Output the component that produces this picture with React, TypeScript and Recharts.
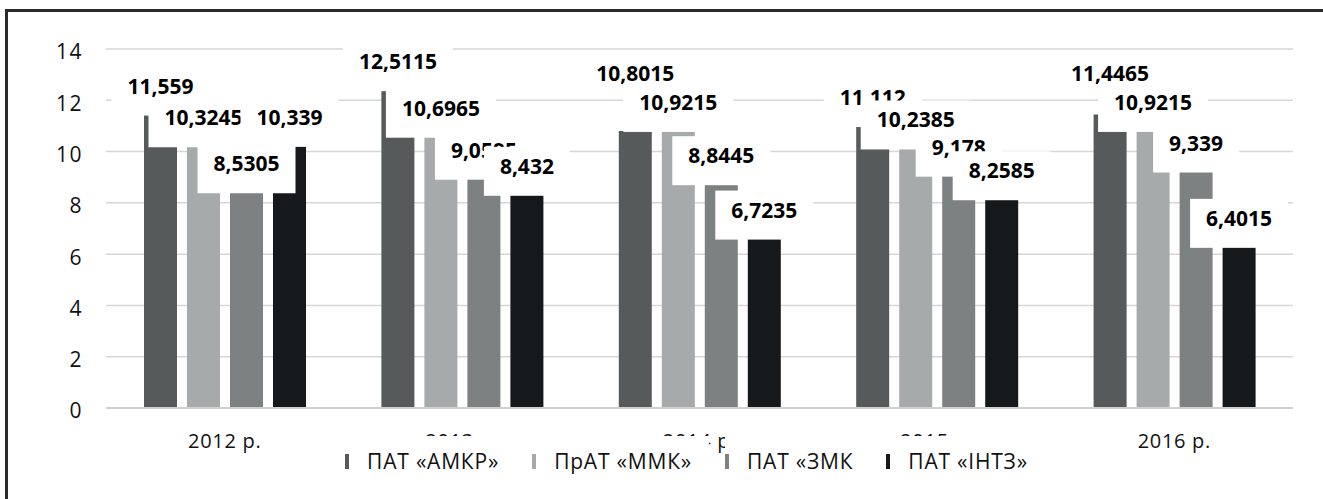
import { Bar, BarChart, CartesianGrid, LabelList, Legend, XAxis, YAxis } from "recharts";

const years = ["2012 р.", "2013 р.", "2014 р.", "2015 р.", "2016 р."];
const seriesNames = ["ПАТ «АМКР»", "ПрАТ «ММК»", "ПАТ «ЗМК", "ПАТ «ІНТЗ»"];
const amkr = [11.559, 12.5115, 10.8015, 11.112, 11.4465];
const mmk = [10.3245, 10.6965, 10.9215, 10.2385, 10.9215];
const zmk = [8.5305, 9.0595, 8.8445, 9.178, 9.339];
const intz = [10.339, 8.432, 6.7235, 8.2585, 6.4015];
const yTicks = [0, 2, 4, 6, 8, 10, 12, 14];

const series = [amkr, mmk, zmk, intz];
const colors = ["#575a5b", "#a7aaaa", "#7e8181", "#16191b"];
const keys = ["amkr", "mmk", "zmk", "intz"];

const data = years.map((year, i) => ({
  year,
  amkr: amkr[i],
  mmk: mmk[i],
  zmk: zmk[i],
  intz: intz[i]
}));

const textFont = "'Open Sans', sans-serif";

// white-boxed value label, like the Excel data callouts.
// If the next series' box would hide most of this text, lift it above that box.
function BoxLabel(props: any) {
  const { x, y, width, height, value, index, seriesIndex } = props;
  const cx = Number(x) + Number(width) / 2;
  const top = Number(y);
  const text = String(value).replace(".", ",");
  const digits = text.replace(",", "").length;
  const tw = digits * 12 + 6;

  let baseline = top - 18;
  let boxBottom = top + 4;
  const nextSeries = series[seriesIndex + 1];
  if (nextSeries && Number(value) > 0) {
    const pxPerUnit = Number(height) / Number(value);
    const nextTop = top + (Number(value) - nextSeries[index]) * pxPerUnit;
    const diff = nextTop - top;
    if (diff > -37 && 27 - diff > 12) {
      baseline = nextTop - 47;
      boxBottom = baseline + 16;
    }
  }

  return (
    <g>
      <rect
        x={cx - tw / 2 - 16}
        y={baseline - 27}
        width={tw + 32}
        height={boxBottom - (baseline - 27)}
        fill="#fff"
      />
      <text
        x={cx}
        y={baseline}
        textAnchor="middle"
        fontFamily={textFont}
        fontWeight={700}
        fontSize={21}
        fill="#000"
      >
        {text}
      </text>
    </g>
  );
}

function LegendBoxes() {
  return (
    <div
      style={{
        position: "absolute",
        top: 436,
        left: 0,
        width: 1390,
        display: "flex",
        justifyContent: "center",
        gap: 16
      }}
    >
      {seriesNames.map((name, i) => (
        <div
          key={name}
          style={{
            background: "#fff",
            display: "flex",
            alignItems: "flex-start",
            padding: "13px 17px 16px 0",
            fontFamily: textFont,
            fontSize: 21,
            lineHeight: "24px",
            letterSpacing: 0.8,
            color: "#111",
            whiteSpace: "nowrap"
          }}
        >
          <span
            style={{
              display: "inline-block",
              width: 4,
              height: 15,
              marginTop: 5,
              marginRight: 18,
              background: colors[i]
            }}
          />
          {name}
        </div>
      ))}
    </div>
  );
}

export default function App() {
  return (
    <div style={{ position: "absolute", left: 0, top: 0, width: 1323, height: 499, background: "#fff", overflow: "hidden" }}>
      <div
        style={{
          position: "absolute",
          left: 5,
          top: 9,
          width: 1340,
          height: 520,
          borderTop: "3px solid #2a2a2a",
          borderLeft: "3px solid #2a2a2a"
        }}
      />
      <div style={{ position: "absolute", left: 0, top: 0 }}>
        <BarChart
          width={1323}
          height={499}
          data={data}
          margin={{ top: 49, right: 30, bottom: 0, left: 0 }}
          barGap={10}
          barSize={33}
        >
          <CartesianGrid vertical={false} stroke="#d6d6d6" strokeWidth={1.5} />
          <XAxis
            dataKey="year"
            height={91}
            axisLine={{ stroke: "#d0d0d0", strokeWidth: 2 }}
            tickLine={false}
            tickSize={0}
            tickMargin={26}
            tick={{ fill: "#111", fontSize: 20, fontFamily: textFont, letterSpacing: 0.7 }}
          />
          <YAxis
            domain={[0, 14]}
            ticks={yTicks}
            width={106}
            axisLine={false}
            tickLine={false}
            tickSize={0}
            tickMargin={23}
            tick={{ fill: "#111", fontSize: 21, fontFamily: textFont, letterSpacing: 1.5, dy: 3 }}
          />
          <Legend
            content={() => <LegendBoxes />}
            wrapperStyle={{ left: 0, top: 0, width: 1323, height: 0 }}
          />
          {keys.map((k, i) => (
            <Bar key={k} dataKey={k} name={seriesNames[i]} fill={colors[i]} isAnimationActive={false}>
              <LabelList dataKey={k} content={(p: any) => <BoxLabel {...p} seriesIndex={i} />} />
            </Bar>
          ))}
        </BarChart>
      </div>
    </div>
  );
}
